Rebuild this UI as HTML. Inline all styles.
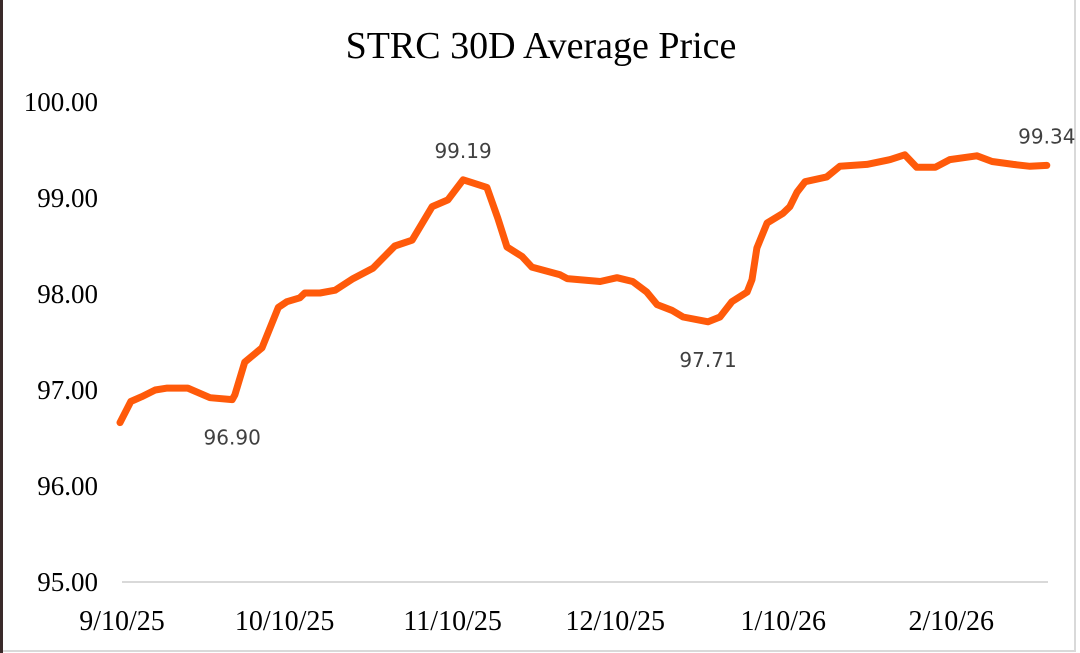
<!DOCTYPE html>
<html><head><meta charset="utf-8">
<style>
html,body{margin:0;padding:0;background:#fff;}
#wrap{position:relative;width:1080px;height:653px;overflow:hidden;}
svg{display:block;}
</style></head>
<body>
<div id="wrap">
<svg id="chart" width="1080" height="653" viewBox="0 0 1080 653" xmlns="http://www.w3.org/2000/svg">
<rect x="0" y="0" width="1080" height="653" fill="#fff"/>
<rect x="1" y="-2" width="1074" height="653" fill="none" stroke="#d9d9d9" stroke-width="2"/>
<rect x="0" y="0" width="3" height="653" fill="#3a2a2a"/>
<text x="541" y="58" text-anchor="middle" font-family="Liberation Serif, serif" font-size="38" fill="#000">STRC 30D Average Price</text>
<g id="yaxis"></g>
<g id="xaxis"></g>
<g id="series"></g>
<g id="labels"></g>
</svg>
</div>
<script>
const yTicks = [95, 96, 97, 98, 99, 100];
const yTickLabels = ["95.00", "96.00", "97.00", "98.00", "99.00", "100.00"];
const xTickDays = [0, 30, 61, 91, 122, 153];
const xTickLabels = ["9/10/25", "10/10/25", "11/10/25", "12/10/25", "1/10/26", "2/10/26"];
const days = [0,2,4,6.5,8.7,12.5,16.6,20.7,21.2,23,26.2,29.2,30.8,33.2,34.1,36.9,39.7,43,46.7,50.7,53.9,57.6,60.5,63.3,64.9,67.7,69.7,71.4,74.2,76,81.2,82.5,88.6,91.7,94.6,97.2,99.1,101.8,103.9,108.5,110.7,112.9,115.7,116.6,117.5,119.4,122.3,123.6,124.9,126.4,130.4,132.8,137.8,142.1,144.8,147,150.4,153.1,158.1,160.9,164.8,167.9,171];
const prices = [96.66,96.88,96.93,97.00,97.02,97.02,96.92,96.90,96.95,97.29,97.44,97.86,97.92,97.96,98.01,98.01,98.04,98.16,98.27,98.50,98.56,98.91,98.98,99.19,99.16,99.11,98.79,98.49,98.39,98.28,98.20,98.16,98.13,98.17,98.13,98.02,97.89,97.83,97.76,97.71,97.76,97.92,98.02,98.15,98.48,98.74,98.84,98.91,99.06,99.17,99.22,99.33,99.35,99.40,99.45,99.32,99.32,99.40,99.44,99.38,99.35,99.33,99.34];
const annotIdx = [7, 23, 39, 62];
const annotText = ["96.90", "99.19", "97.71", "99.34"];
const annotPos = ["below", "above", "below", "above"];

const NS = "http://www.w3.org/2000/svg";
function xScale(d){ return 120 + d * 5.42; }
function yScale(v){ return 582 - (v - 95) * 96; }
function mk(tag, attrs, parent){ const e = document.createElementNS(NS, tag); for (const k in attrs) e.setAttribute(k, attrs[k]); parent.appendChild(e); return e; }

const yax = document.getElementById('yaxis');
yTicks.forEach((t, i) => {
  const tx = mk('text', {x: 98, y: yScale(t) + 9, 'text-anchor': 'end', 'font-family': 'Liberation Serif, serif', 'font-size': '27', fill: '#000'}, yax);
  tx.textContent = yTickLabels[i];
  
  
});
const base = mk('line', {x1: 122, x2: 1048, y1: yScale(95), y2: yScale(95), stroke: '#d9d9d9', 'stroke-width': '2'}, yax);



const xax = document.getElementById('xaxis');
xTickDays.forEach((d, i) => {
  const tx = mk('text', {x: xScale(d) + 2, y: 630, 'text-anchor': 'middle', 'font-family': 'Liberation Serif, serif', 'font-size': '28', fill: '#000'}, xax);
  tx.textContent = xTickLabels[i];
  
  
});

const ser = document.getElementById('series');
const pts = days.map((d, i) => xScale(d).toFixed(1) + ',' + yScale(prices[i]).toFixed(1)).join(' ');
const line = mk('polyline', {points: pts, fill: 'none', stroke: '#FF5A0A', 'stroke-width': '7', 'stroke-linejoin': 'round', 'stroke-linecap': 'round'}, ser);



const lab = document.getElementById('labels');
annotIdx.forEach((idx, i) => {
  const x = xScale(days[idx]);
  const y = yScale(prices[idx]);
  const ty = annotPos[i] === 'above' ? y - 22 : y + 45;
  const tx = mk('text', {x: x, y: ty, 'text-anchor': 'middle', 'font-family': 'DejaVu Sans, Liberation Sans, sans-serif', 'font-size': '20', fill: '#404040'}, lab);
  tx.textContent = annotText[i];
  
  
});
</script>
</body></html>
